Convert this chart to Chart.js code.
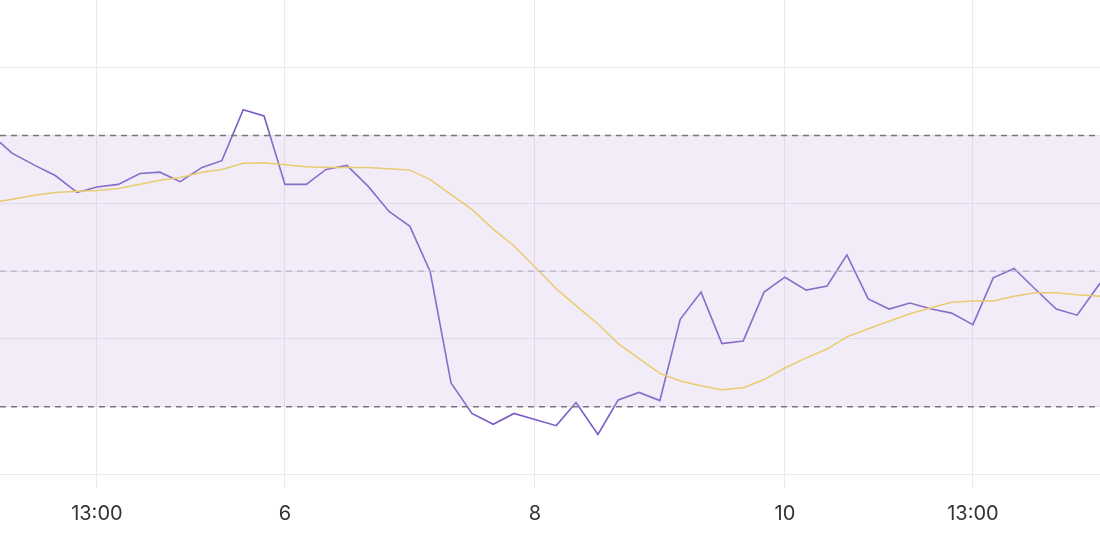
<!DOCTYPE html>
<html><head><meta charset="utf-8">
<script src="https://cdn.jsdelivr.net/npm/chart.js@4"></script>
<style>html,body{margin:0;padding:0;background:#fff}</style>
</head><body>
<canvas id="c" width="1100" height="540"></canvas>
<script>
const hours = [0,2.3,6.7,10.6,14.8,18.6,22.7,26.9,30.7,34.6,38.8,42.6,46.7,50.7,54.7,58.8,62.6,66.6,70.7,74.7,78.7,82.6,86.6,90.6,94.7,98.7,102.7,106.8,110.6,114.8,118.7,122.7,126.7,130.6,134.6,138.6,142.7,146.7,150.7,154.8,158.8,162.6,166.7,170.7,174.7,178.8,182.7,186.8,190.7,194.7,198.7,202.8,206.8,211.2];
const price = [49.0,47.4,45.6,44.1,41.6,42.4,42.8,44.4,44.6,43.2,45.3,46.3,53.8,52.9,42.8,42.8,45.0,45.6,42.5,38.8,36.6,29.9,13.5,9.0,7.4,9.0,8.1,7.2,10.6,5.9,11.0,12.1,10.9,22.9,26.9,19.3,19.7,26.9,29.1,27.2,27.8,32.4,25.9,24.4,25.3,24.4,23.8,22.1,29.0,30.4,27.4,24.4,23.5,28.2];
const average = [40.3,40.6,41.2,41.6,41.8,41.9,42.2,42.8,43.4,43.8,44.6,45.0,45.9,46.0,45.7,45.4,45.3,45.3,45.3,45.1,44.9,43.5,41.3,39.1,36.2,33.7,30.6,27.4,24.9,22.2,19.3,17.1,14.9,13.8,13.1,12.5,12.8,14.0,15.7,17.2,18.5,20.3,21.5,22.6,23.7,24.6,25.4,25.6,25.6,26.3,26.8,26.8,26.5,26.3];
const upper = 50, middle = 30, lower = 10;
const tickPos = [18.6,54.7,102.7,150.7,186.8];
const tickLabels = ['13:00','6','8','10','13:00'];
const xMin = 0, xMax = 211.2;

const pts = (ys) => hours.map((h,i)=>({x:h,y:ys[i]}));
const flat = (v) => [{x:xMin,y:v},{x:xMax,y:v}];
const dash = {borderColor:'#7a7580',borderWidth:1.5,borderDash:[6,5],pointRadius:0};

new Chart(document.getElementById('c'),{
  type:'line',
  data:{datasets:[
    {data:flat(upper),...dash,fill:false},
    {data:flat(lower),...dash,fill:'-1',backgroundColor:'rgba(190,170,225,0.22)'},
    {data:flat(middle),borderColor:'#b8b2c2',borderWidth:1.2,borderDash:[6,5],pointRadius:0,fill:false},
    {data:pts(average),borderColor:'#f4d64e',borderWidth:1.5,pointRadius:0,fill:false,tension:0},
    {data:pts(price),borderColor:'#7b5cc4',borderWidth:1.6,pointRadius:0,fill:false,tension:0}
  ]},
  options:{
    responsive:false,devicePixelRatio:1,animation:false,
    layout:{padding:0},
    plugins:{legend:{display:false},tooltip:{enabled:false}},
    scales:{
      x:{type:'linear',min:xMin,max:xMax,
        afterBuildTicks:(a)=>{a.ticks=tickPos.map(v=>({value:v}));},
        ticks:{autoSkip:false,maxRotation:0,padding:14,color:'#333',font:{family:'Inter',size:20},
          callback:(v)=>{const i=tickPos.indexOf(v);return i>=0?tickLabels[i]:'';}},
        grid:{color:'#e9e9ee',drawTicks:false},border:{display:false}},
      y:{min:-2,max:70,
        afterBuildTicks:(a)=>{a.ticks=[0,10,20,30,40,50,60].map(v=>({value:v}));},
        ticks:{display:false},
        grid:{color:'#e9e9ee',drawTicks:false},border:{display:false},afterFit:(a)=>{a.width=0;}}
    }
  }
});
</script>
</body></html>
